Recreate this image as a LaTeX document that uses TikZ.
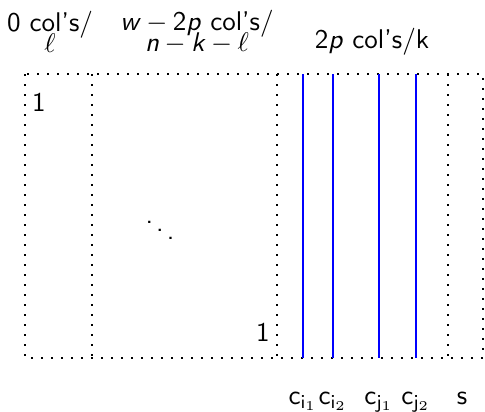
\documentclass[tikz,border=0pt]{standalone}
\usepackage{amsmath}
\definecolor{colblue}{HTML}{0000FF}
\newcommand{\sv}[1]{\textit{#1}}
\newcommand{\mn}{\hspace{0.2em}$-$\hspace{0.2em}}

\begin{document}
\begin{tikzpicture}[
    x=0.37pt, y=-0.37pt,
    grid/.style={line width=0.65pt, dash pattern=on 0.65pt off 3.05pt, black},
    col/.style={line width=0.95pt, colblue},
    lbl/.style={font=\sffamily, inner sep=1pt, align=center},
    sub/.style={font=\sffamily, inner sep=1pt, anchor=base}
  ]
  \useasboundingbox (0,0) rectangle (485,412);

  % Frame
  \coordinate (nw) at (25,74);
  \coordinate (se) at (483,358);
  \draw[grid] (nw) rectangle (se);

  % Block separators
  \foreach \name/\x in {a/92, b/277, c/448} {
    \coordinate (\name-t) at (\x,74);
    \coordinate (\name-b) at (\x,358);
    \draw[grid] (\name-t) -- (\name-b);
  }

  % Header labels
  \node[lbl] (zero) at (50,32) {0 col's/\\[-4pt]$\ell$};
  \node[lbl] (mid) at (197,32) {\sv{w}\mn 2\sv{p} col's/\\[-4pt]\sv{n}\mn\sv{k}\mn$\ell$};
  \node[lbl] (two) at (372,42) {2\sv{p} col's/k};

  % Identity block
  \node[lbl] (one-t) at (39,102) {1};
  \node[lbl] (one-b) at (263,332) {1};
  \node[lbl] (dots) at (160,222) {$\ddots$};

  % Selected columns
  \foreach \name/\x/\txt in {i1/303/{\mathsf{c}_{\mathsf{i}_1}}, i2/333/{\mathsf{c}_{\mathsf{i}_2}},
                             j1/379/{\mathsf{c}_{\mathsf{j}_1}}, j2/416/{\mathsf{c}_{\mathsf{j}_2}}} {
    \coordinate (\name-t) at (\x,74);
    \coordinate (\name-b) at (\x,358);
    \draw[col] (\name-t) -- (\name-b);
    \node[sub] (lbl-\name) at (\x,404) {$\txt$};
  }
  \node[sub] (lbl-s) at (462,404) {s};
\end{tikzpicture}
\end{document}
